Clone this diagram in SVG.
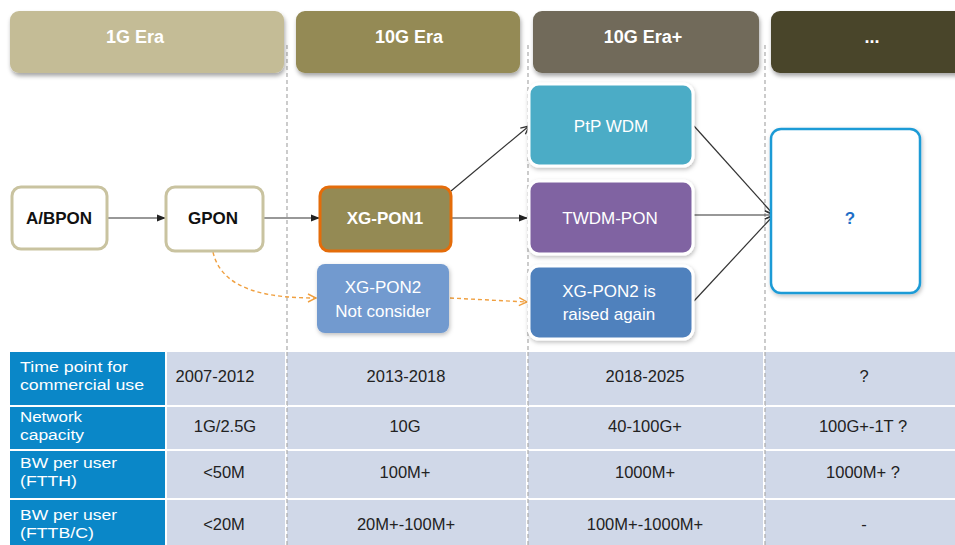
<svg xmlns="http://www.w3.org/2000/svg" width="955" height="545" viewBox="0 0 955 545">
<defs>
<filter id="sh" x="-10%" y="-10%" width="130%" height="140%"><feDropShadow dx="1" dy="3" stdDeviation="2" flood-color="#000" flood-opacity="0.35"/></filter>
<filter id="sh2" x="-10%" y="-10%" width="130%" height="140%"><feDropShadow dx="1" dy="2" stdDeviation="2" flood-color="#000" flood-opacity="0.25"/></filter>
<marker id="af" viewBox="0 0 10 10" refX="9" refY="5" markerWidth="9" markerHeight="9" markerUnits="userSpaceOnUse" orient="auto"><path d="M0,1 L10,5 L0,9 z" fill="#222"/></marker>
<marker id="ao" viewBox="0 0 10 10" refX="9" refY="5" markerWidth="10" markerHeight="10" markerUnits="userSpaceOnUse" orient="auto"><path d="M1,1 L9,5 L1,9" fill="none" stroke="#333" stroke-width="1.3"/></marker>
<marker id="ay" viewBox="0 0 10 10" refX="9" refY="5" markerWidth="10" markerHeight="10" markerUnits="userSpaceOnUse" orient="auto"><path d="M1,1 L9,5 L1,9" fill="none" stroke="#f0a040" stroke-width="1.4"/></marker>
</defs>
<style>
.hd{font-family:"Liberation Sans",Arial,sans-serif;font-weight:bold;font-size:18px;fill:#fff;text-anchor:middle}
.nb{font-family:"Liberation Sans",Arial,sans-serif;font-weight:bold;font-size:17px;text-anchor:middle}
.nr{font-family:"Liberation Sans",Arial,sans-serif;font-size:17px;fill:#fff;text-anchor:middle}
.th{font-family:"Liberation Sans",Arial,sans-serif;font-size:15.5px;fill:#fff}
.td{font-family:"Liberation Sans",Arial,sans-serif;font-size:16.5px;fill:#222;text-anchor:middle}
.vl{stroke:#aaa;stroke-width:1.2;stroke-dasharray:4,3;fill:none}
.c{stroke:#333;stroke-width:1.2;fill:none}
.cy{stroke:#f0a040;stroke-width:1.4;stroke-dasharray:4,3;fill:none}
.hc{fill:#0a87c8}
.dc{fill:#d0d8e8}
</style>
<rect width="955" height="545" fill="#fff"/>
<g id="dividers">
<line class="vl" x1="287" y1="45" x2="287" y2="545"/>
<line class="vl" x1="528" y1="45" x2="528" y2="545"/>
<line class="vl" x1="765" y1="45" x2="765" y2="545"/>
</g>
<g id="era-1g"><rect x="10" y="11" width="274" height="62" rx="9" fill="#c4bc96" filter="url(#sh)"/><text class="hd" x="135" y="43">1G Era</text></g>
<g id="era-10g"><rect x="296" y="11" width="224" height="62" rx="9" fill="#948a54" filter="url(#sh)"/><text class="hd" x="409" y="43">10G Era</text></g>
<g id="era-10gplus"><rect x="533" y="11" width="226" height="62" rx="9" fill="#716b5a" filter="url(#sh)"/><text class="hd" x="643" y="43">10G Era+</text></g>
<g id="era-next"><rect x="771" y="11" width="200" height="62" rx="9" fill="#4a442a" filter="url(#sh)"/><text class="hd" x="872" y="43">...</text></g>

<g id="connectors">
<line class="c" x1="107" y1="218" x2="165" y2="218" marker-end="url(#af)"/>
<line class="c" x1="263" y1="218" x2="319" y2="218" marker-end="url(#af)"/>
<line class="c" x1="451" y1="191" x2="529" y2="126" marker-end="url(#ao)"/>
<line class="c" x1="451" y1="218" x2="527" y2="218" marker-end="url(#af)"/>
<line class="c" x1="694" y1="126" x2="773" y2="214" marker-end="url(#ao)"/>
<line class="c" x1="694" y1="215" x2="773" y2="215" marker-end="url(#ao)"/>
<line class="c" x1="694" y1="301" x2="773" y2="216" marker-end="url(#ao)"/>
<path class="cy" d="M213,252 C222,292 272,298 316,298" marker-end="url(#ay)"/>
<line class="cy" x1="450" y1="298" x2="527" y2="302" marker-end="url(#ay)"/>
</g>

<g id="abpon"><rect x="12" y="187" width="95" height="62" rx="9" fill="#fff" stroke="#c9c3a0" stroke-width="3"/><text class="nb" x="59" y="224" fill="#111">A/BPON</text></g>
<g id="gpon"><rect x="166" y="187" width="97" height="64" rx="9" fill="#fff" stroke="#c9c3a0" stroke-width="3"/><text class="nb" x="213" y="224" fill="#111" font-size="16.5">GPON</text></g>
<g id="xgpon1"><rect x="320" y="187" width="131" height="64" rx="9" fill="#948a54" stroke="#e46c0a" stroke-width="3"/><text class="nb" x="385" y="224" fill="#fff">XG-PON1</text></g>
<g id="xgpon2-nc"><rect x="317" y="264" width="132" height="69" rx="8" fill="#729acf" filter="url(#sh2)"/><text class="nr" x="383" y="293">XG-PON2</text><text class="nr" x="383" y="317">Not consider</text></g>
<g id="ptp-wdm"><rect x="529" y="84" width="164" height="82" rx="10" fill="#4bacc6" stroke="#fff" stroke-width="3" filter="url(#sh2)"/><text class="nr" x="611" y="132">PtP WDM</text></g>
<g id="twdm-pon"><rect x="529" y="181" width="164" height="73" rx="10" fill="#8064a2" stroke="#fff" stroke-width="3" filter="url(#sh2)"/><text class="nr" x="610" y="224">TWDM-PON</text></g>
<g id="xgpon2-again"><rect x="529" y="266" width="164" height="73" rx="10" fill="#4f81bd" stroke="#fff" stroke-width="3" filter="url(#sh2)"/><text class="nr" x="609" y="297">XG-PON2 is</text><text class="nr" x="609" y="320">raised again</text></g>
<g id="future"><rect x="771" y="129" width="149" height="164" rx="10" fill="#fff" stroke="#1f9bd6" stroke-width="2.5" filter="url(#sh2)"/><text class="nb" x="850" y="224" fill="#1f6fc8">?</text></g>

<g id="table">
<rect class="hc" x="10" y="352" width="155" height="53"/>
<rect class="hc" x="10" y="407" width="155" height="42"/>
<rect class="hc" x="10" y="451" width="155" height="47"/>
<rect class="hc" x="10" y="500" width="155" height="45"/>
<rect class="dc" x="167" y="352" width="788" height="53"/>
<rect class="dc" x="167" y="407" width="788" height="42"/>
<rect class="dc" x="167" y="451" width="788" height="47"/>
<rect class="dc" x="167" y="500" width="788" height="45"/>
<line x1="286" y1="352" x2="286" y2="545" stroke="#fff" stroke-width="2"/>
<line x1="527" y1="352" x2="527" y2="545" stroke="#fff" stroke-width="2"/>
<line x1="764" y1="352" x2="764" y2="545" stroke="#fff" stroke-width="2"/>
<line class="vl" x1="287" y1="352" x2="287" y2="545"/>
<line class="vl" x1="528" y1="352" x2="528" y2="545"/>
<line class="vl" x1="765" y1="352" x2="765" y2="545"/>
<text class="th" x="20" y="372" textLength="108" lengthAdjust="spacingAndGlyphs">Time point for</text><text class="th" x="20" y="390" textLength="124" lengthAdjust="spacingAndGlyphs">commercial use</text>
<text class="th" x="20" y="422" textLength="62" lengthAdjust="spacingAndGlyphs">Network</text><text class="th" x="20" y="440" textLength="64" lengthAdjust="spacingAndGlyphs">capacity</text>
<text class="th" x="20" y="468" textLength="97" lengthAdjust="spacingAndGlyphs">BW per user</text><text class="th" x="20" y="486" textLength="57" lengthAdjust="spacingAndGlyphs">(FTTH)</text>
<text class="th" x="20" y="520" textLength="97" lengthAdjust="spacingAndGlyphs">BW per user</text><text class="th" x="20" y="538" textLength="74" lengthAdjust="spacingAndGlyphs">(FTTB/C)</text>
<text class="td" x="215" y="382">2007-2012</text><text class="td" x="406" y="382">2013-2018</text><text class="td" x="645" y="382">2018-2025</text><text class="td" x="864" y="382">?</text>
<text class="td" x="225" y="432">1G/2.5G</text><text class="td" x="405" y="432">10G</text><text class="td" x="645" y="432">40-100G+</text><text class="td" x="863" y="432">100G+-1T ?</text>
<text class="td" x="224" y="478">&lt;50M</text><text class="td" x="405" y="478">100M+</text><text class="td" x="645" y="478">1000M+</text><text class="td" x="863" y="478">1000M+ ?</text>
<text class="td" x="224" y="530">&lt;20M</text><text class="td" x="406" y="530">20M+-100M+</text><text class="td" x="645" y="530">100M+-1000M+</text><text class="td" x="864" y="530">-</text>
</g>
</svg>
